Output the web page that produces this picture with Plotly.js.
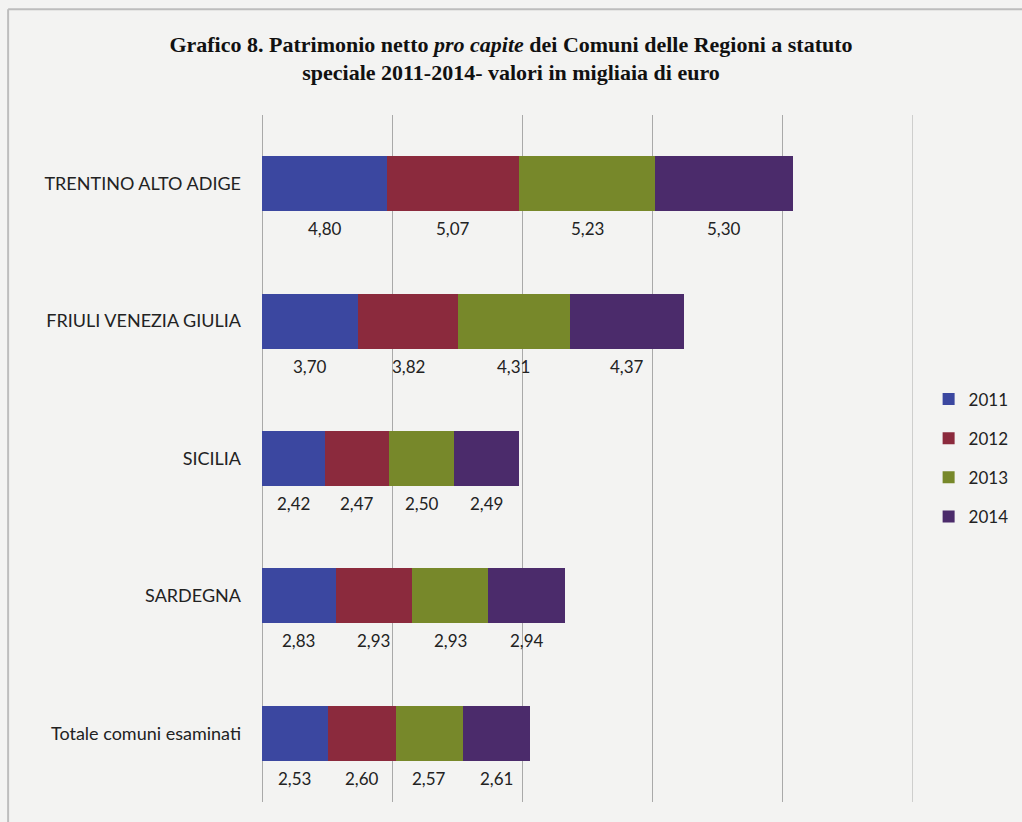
<!DOCTYPE html>
<html>
<head>
<meta charset="utf-8">
<script src="https://cdn.plot.ly/plotly-3.0.1.min.js"></script>
<style>html,body{margin:0;padding:0;background:#f3f3f2;}#chart{width:1022px;height:822px;}</style>
</head>
<body>
<div id="chart"></div>
<script>
const categories = ["TRENTINO ALTO ADIGE", "FRIULI VENEZIA GIULIA", "SICILIA", "SARDEGNA", "Totale comuni esaminati"];
const years = ["2011", "2012", "2013", "2014"];
const v2011 = [4.80, 3.70, 2.42, 2.83, 2.53];
const v2012 = [5.07, 3.82, 2.47, 2.93, 2.60];
const v2013 = [5.23, 4.31, 2.50, 2.93, 2.57];
const v2014 = [5.30, 4.37, 2.49, 2.94, 2.61];
const colors = ["#3b47a0", "#8b2a3d", "#77882a", "#4b2b6b"];

const series = [v2011, v2012, v2013, v2014];
const labelFont = "Lato, 'Open Sans', sans-serif";

const traces = series.map((vals, i) => ({
  type: "bar",
  orientation: "h",
  name: years[i],
  legendgroup: years[i],
  x: vals,
  y: categories,
  marker: {color: colors[i], line: {width: 0}},
  hoverinfo: "x+name"
}));

const annotations = [];
categories.forEach((cat, ci) => {
  let base = 0;
  series.forEach((vals, si) => {
    const v = vals[ci];
    annotations.push({
      x: base + v / 2, y: cat, xref: "x", yref: "y",
      text: v.toFixed(2).replace(".", ","),
      showarrow: false, yshift: -45,
      font: {family: labelFont, size: 17, color: "#222"}
    });
    base += v;
  });
});

const layout = {
  width: 1022, height: 822,
  margin: {l: 262, r: 109, t: 115, b: 20, autoexpand: false},
  paper_bgcolor: "#f3f3f2",
  plot_bgcolor: "#f3f3f2",
  barmode: "stack",
  bargap: 0.6,
  title: {
    text: "<b>Grafico 8. Patrimonio netto <i>pro capite</i> dei Comuni delle Regioni a statuto<br>speciale 2011-2014- valori in migliaia di euro</b>",
    font: {family: "'Liberation Serif', serif", size: 22, color: "#111"},
    x: 0.5, xref: "container", xanchor: "center",
    y: 0.937, yref: "container", yanchor: "top"
  },
  xaxis: {
    range: [0, 25], dtick: 5, tick0: 0,
    showticklabels: false, ticks: "",
    showgrid: true, gridcolor: "#a9a9a9", gridwidth: 1,
    zeroline: true, zerolinecolor: "#a9a9a9", zerolinewidth: 1,
    showline: false, fixedrange: true
  },
  yaxis: {
    type: "category",
    categoryorder: "array", categoryarray: categories,
    autorange: "reversed",
    ticks: "", ticklen: 0,
    showgrid: false, zeroline: false, showline: false,
    tickfont: {family: labelFont, size: 18, color: "#222"},
    ticklabelstandoff: 20
  },
  legend: {
    x: 1.024, xref: "paper", xanchor: "left",
    y: 0.612, yref: "paper", yanchor: "top",
    traceorder: "grouped",
    bgcolor: "rgba(0,0,0,0)",
    font: {family: labelFont, size: 17, color: "#222"},
    itemwidth: 30, tracegroupgap: 14
  },
  annotations: annotations,
  shapes: [
    {type: "line", xref: "x", yref: "paper", x0: 25, x1: 25, y0: 0, y1: 1, line: {color: "#a9a9a9", width: 1}},
    {type: "line", xref: "paper", yref: "paper", x0: -0.39, x1: 1.2, y0: 1.154, y1: 1.154, line: {color: "#bdbdbd", width: 2}},
    {type: "line", xref: "paper", yref: "paper", x0: -0.39, x1: -0.39, y0: 1.154, y1: -0.05, line: {color: "#bdbdbd", width: 2}}
  ],
  showlegend: true
};

Plotly.newPlot("chart", traces, layout, {displayModeBar: false});
</script>
</body>
</html>
